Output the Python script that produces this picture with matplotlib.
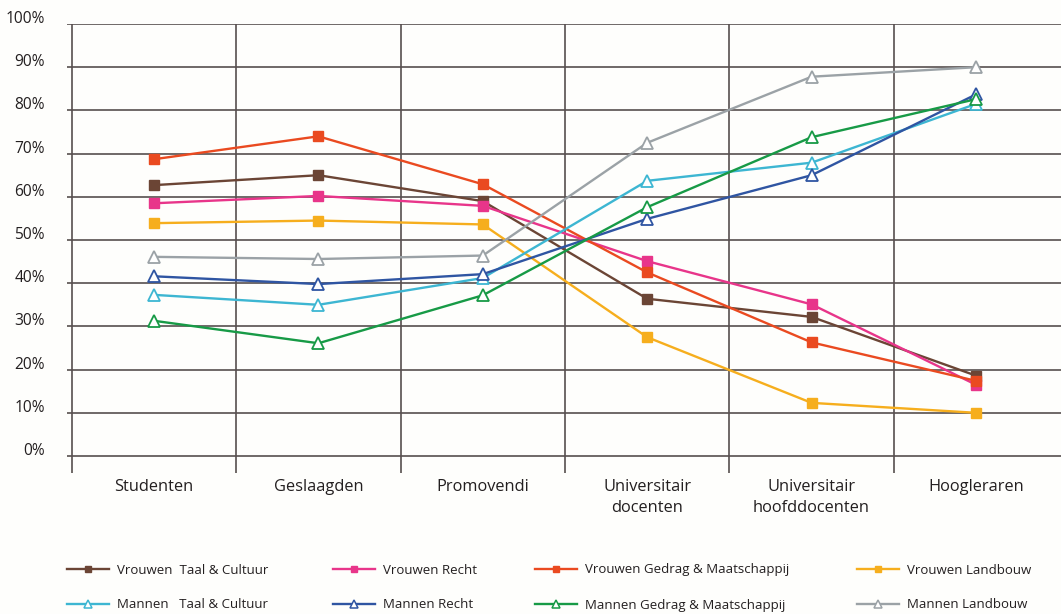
import matplotlib
matplotlib.use("Agg")
import matplotlib.pyplot as plt
import matplotlib.transforms as mtransforms
from matplotlib.lines import Line2D

categories = ["Studenten", "Geslaagden", "Promovendi",
              "Universitair\ndocenten", "Universitair\nhoofddocenten", "Hoogleraren"]

vrouwen_taal = [62.7, 65.0, 59.0, 36.4, 32.2, 18.6]
vrouwen_recht = [58.5, 60.2, 57.9, 45.1, 35.1, 16.5]
vrouwen_gedrag = [68.7, 74.0, 62.9, 42.5, 26.3, 17.4]
vrouwen_landbouw = [53.9, 54.5, 53.6, 27.5, 12.3, 10.0]
mannen_taal = [37.3, 35.0, 41.2, 63.7, 67.9, 81.5]
mannen_recht = [41.6, 39.8, 42.1, 54.9, 65.0, 83.7]
mannen_gedrag = [31.3, 26.1, 37.2, 57.6, 73.8, 82.6]
mannen_landbouw = [46.1, 45.6, 46.4, 72.5, 87.8, 90.0]

labels = ["Vrouwen  Taal & Cultuur", "Vrouwen Recht", "Vrouwen Gedrag & Maatschappij", "Vrouwen Landbouw",
          "Mannen   Taal & Cultuur", "Mannen Recht", "Mannen Gedrag & Maatschappij", "Mannen Landbouw"]
series = [vrouwen_taal, vrouwen_recht, vrouwen_gedrag, vrouwen_landbouw,
          mannen_taal, mannen_recht, mannen_gedrag, mannen_landbouw]
colors = ["#6b4535", "#e8358a", "#ea4a20", "#f6ae1d",
          "#3db6d2", "#2f55a2", "#179a46", "#9ba2a6"]

ytick_vals = [0, 10, 20, 30, 40, 50, 60, 70, 80, 90, 100]
ytick_labels = [f"{v}%" for v in ytick_vals]

plt.rcParams['font.family'] = ['Open Sans', 'DejaVu Sans']
text_color = "#231f20"
grid_color = "#574f4f"

W, H = 1061, 614
fig = plt.figure(figsize=(W / 100, H / 100), dpi=100)
fig.patch.set_facecolor("#fefefc")

# axes box in pixels
left_px, right_px, top_px, bottom_px = 67, 1061, 24, 473
ax = fig.add_axes([left_px / W, 1 - bottom_px / H, (right_px - left_px) / W, (bottom_px - top_px) / H])
ax.set_facecolor("none")

n = len(categories)
x = list(range(n))
step_px = 164.4
x0_px = 154
ax.set_xlim(-(x0_px - left_px) / step_px, (right_px - x0_px) / step_px)
ax.set_ylim(-(bottom_px - 456) / 4.32, 100)

for sp in ax.spines.values():
    sp.set_visible(False)

ax.set_yticks(ytick_vals)
ax.set_yticklabels(ytick_labels, fontsize=11.2, color=text_color)
ax.tick_params(axis='y', length=0, pad=16)
off = mtransforms.ScaledTranslation(0, 0.07, fig.dpi_scale_trans)
for lab in ax.get_yticklabels():
    lab.set_transform(lab.get_transform() + off)

ax.set_xticks(x)
ax.set_xticklabels(categories, fontsize=11.8, color=text_color, linespacing=1.45)
ax.tick_params(axis='x', length=0, pad=4)

ax.yaxis.grid(True, color=grid_color, lw=1.2)
ax.set_axisbelow(True)
for i in range(n):
    ax.axvline(i - 0.5, color=grid_color, lw=1.2, zorder=0.5)

for i, (vals, col, lab) in enumerate(zip(series, colors, labels)):
    if i < 4:
        ax.plot(x, vals, color=col, lw=1.7, marker='s', ms=7, mfc=col, mec=col, zorder=3)
    else:
        ax.plot(x, vals, color=col, lw=1.7, marker='^', ms=8, mfc='white', mec=col, mew=1.3, zorder=3)

# legends: 4 columns x 2 rows
col_x = [67, 333, 535, 857]
row_y = [570, 605]
for i, (col, lab) in enumerate(zip(colors, labels)):
    if i < 4:
        h = Line2D([], [], color=col, lw=1.7, marker='s', ms=5, mfc=col, mec=col)
    else:
        h = Line2D([], [], color=col, lw=1.7, marker='^', ms=6, mfc='white', mec=col, mew=1.1)
    cx = col_x[i % 4]
    cy = row_y[i // 4]
    leg = fig.legend([h], [lab], loc='center left',
                     bbox_to_anchor=(cx / W, 1 - cy / H), bbox_transform=fig.transFigure,
                     frameon=False, fontsize=9.5, handlelength=3.2, handletextpad=0.6,
                     borderpad=0, borderaxespad=0, labelcolor=text_color)

fig.savefig("out.png", dpi=100, facecolor=fig.get_facecolor())
